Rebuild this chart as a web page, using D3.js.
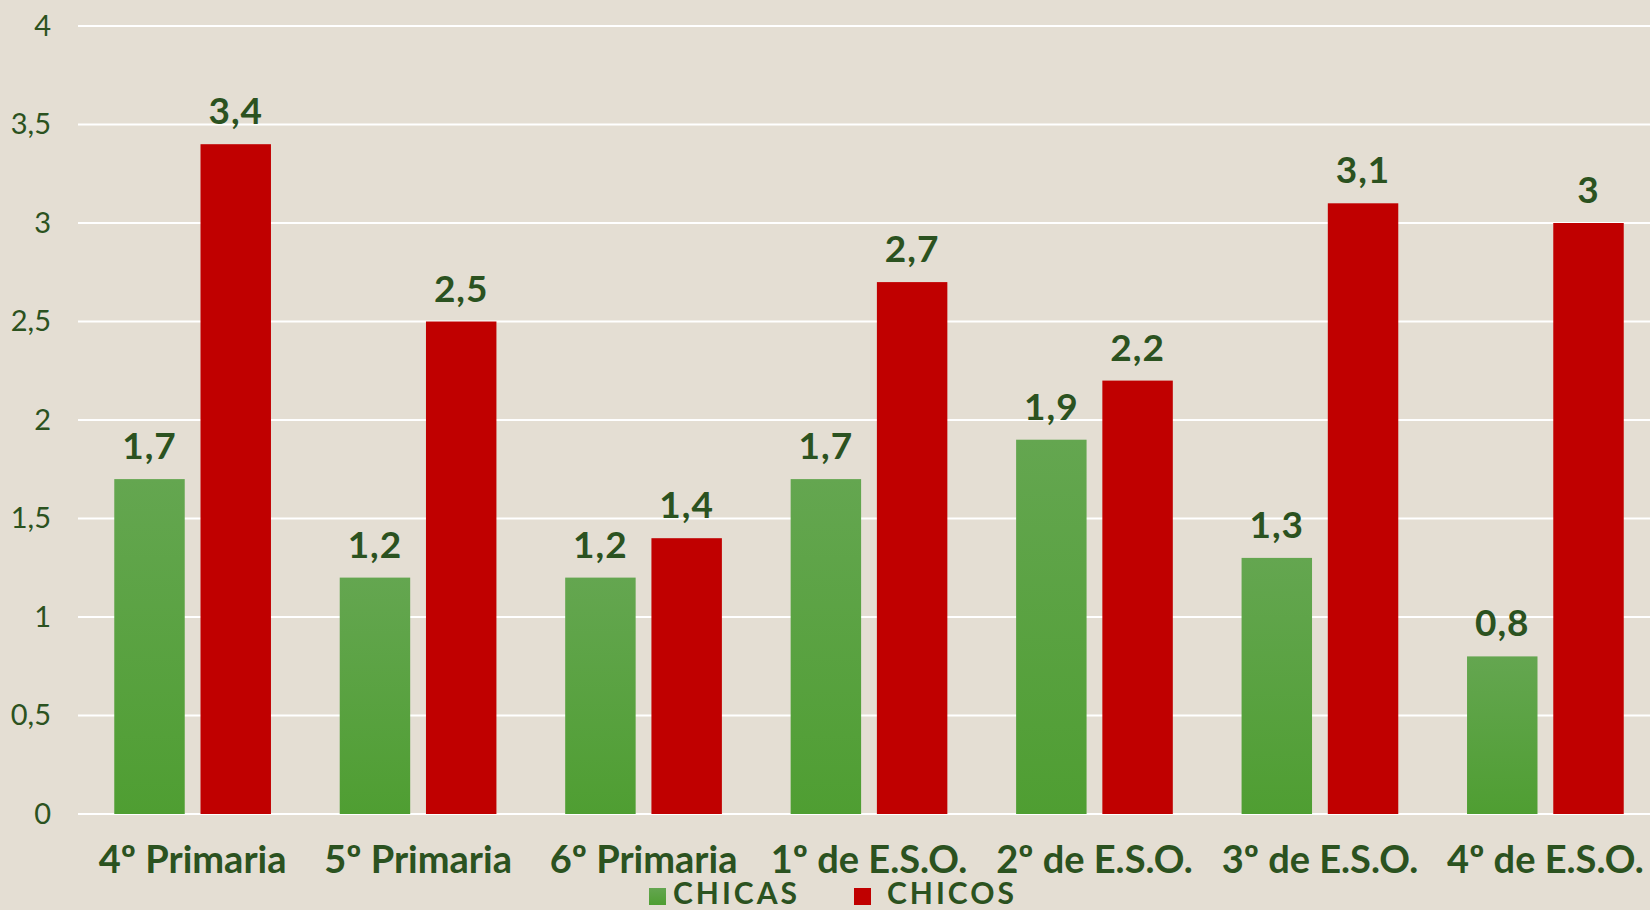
<!DOCTYPE html>
<html>
<head>
<meta charset="utf-8">
<script src="https://cdn.jsdelivr.net/npm/d3@7"></script>
<style>
  html, body { margin: 0; padding: 0; background: #e4ded3; }
  svg { display: block; }
  text { font-family: Lato, "Open Sans", sans-serif; fill: #2b5220; }
</style>
</head>
<body>
<div id="chart"></div>
<script>
// data
let categories = ["4º Primaria", "5º Primaria", "6º Primaria", "1º de E.S.O.", "2º de E.S.O.", "3º de E.S.O.", "4º de E.S.O."];
let chicas = [1.7, 1.2, 1.2, 1.7, 1.9, 1.3, 0.8];
let chicos = [3.4, 2.5, 1.4, 2.7, 2.2, 3.1, 3.0];
let seriesNames = ["CHICAS", "CHICOS"];
let yTicks = [0, 0.5, 1, 1.5, 2, 2.5, 3, 3.5, 4];

function fmt(v){
    // spanish decimal comma
    return String(v).replace(".", ",");
}

let W = 1650, H = 910;
let svg = d3.select("#chart").append("svg")
    .attr("width", W)
    .attr("height", H);

svg.append("rect").attr("width", W).attr("height", H).attr("fill", "#e4ded3");

let defs = svg.append("defs");
let grad = defs.append("linearGradient")
    .attr("id", "greenGrad")
    .attr("x1", 0).attr("y1", 0).attr("x2", 0).attr("y2", 1);
grad.append("stop").attr("offset", "0%").attr("stop-color", "#64a650");
grad.append("stop").attr("offset", "100%").attr("stop-color", "#4f9e32");

let x0 = d3.scaleBand()
    .domain(categories)
    .range([80, 1658])
    .paddingInner(0.305)
    .paddingOuter(0.152);

let x1 = d3.scaleBand()
    .domain(seriesNames)
    .range([0, x0.bandwidth()])
    .paddingInner(0.183);

let y = d3.scaleLinear()
    .domain([0, 4])
    .range([814, 26]);

// gridlines
svg.append("g")
    .selectAll("line")
    .data(yTicks)
    .enter().append("line")
    .attr("x1", 78).attr("x2", W)
    .attr("y1", d => y(d)).attr("y2", d => y(d))
    .attr("stroke", "#ffffff")
    .attr("stroke-width", 2);

// y axis labels
let yAxis = d3.axisLeft(y).tickValues(yTicks).tickFormat(fmt).tickSize(0).tickPadding(0);
let yg = svg.append("g")
    .attr("transform", "translate(51,0)")
    .call(yAxis);
yg.select(".domain").remove();
yg.selectAll("text")
    .style("font-size", "29px")
    .attr("fill", "#2b5220")
    .attr("font-family", "Lato, sans-serif");

// bars
let rows = categories.map((c, i) => ({cat: c, vals: [
    {name: "CHICAS", v: chicas[i]},
    {name: "CHICOS", v: chicos[i]}
]}));

let groups = svg.selectAll(".grp")
    .data(rows)
    .enter().append("g")
    .attr("class", "grp")
    .attr("transform", d => "translate(" + x0(d.cat) + ",0)");

groups.selectAll("rect")
    .data(d => d.vals)
    .enter().append("rect")
    .attr("x", d => x1(d.name))
    .attr("y", d => y(d.v))
    .attr("width", x1.bandwidth())
    .attr("height", d => y(0) - y(d.v))
    .attr("fill", d => d.name == "CHICAS" ? "url(#greenGrad)" : "#c00000");

groups.selectAll(".val")
    .data(d => d.vals)
    .enter().append("text")
    .attr("class", "val")
    .attr("x", d => x1(d.name) + x1.bandwidth() / 2)
    .attr("y", d => y(d.v) - 20)
    .attr("text-anchor", "middle")
    .style("font-size", "37px")
    .style("letter-spacing", "1px")
    .style("font-weight", "bold")
    .text(d => fmt(d.v));

// x axis labels
let xAxis = d3.axisBottom(x0).tickSize(0).tickPadding(0);
let xg = svg.append("g")
    .attr("transform", "translate(0,0)")
    .call(xAxis);
xg.select(".domain").remove();
xg.selectAll("text")
    .attr("y", 873)
    .attr("dy", 0)
    .attr("fill", "#2b5220")
    .attr("font-family", "Lato, sans-serif")
    .style("font-size", "38px")
    .style("font-weight", "bold");

// legend
let legend = [
    {name: "CHICAS", fill: "url(#greenGrad)", x: 649},
    {name: "CHICOS", fill: "#c00000", x: 854}
];
let lg = svg.append("g").selectAll("g")
    .data(legend)
    .enter().append("g");
lg.append("rect")
    .attr("x", d => d.x).attr("y", 888)
    .attr("width", 17).attr("height", 17)
    .attr("fill", d => d.fill);
lg.append("text")
    .attr("x", (d, i) => d.x + (i == 0 ? 24 : 33))
    .attr("y", 904)
    .style("font-size", "30px")
    .style("letter-spacing", "3px")
    .style("font-weight", "bold")
    .text(d => d.name);
</script>
</body>
</html>
